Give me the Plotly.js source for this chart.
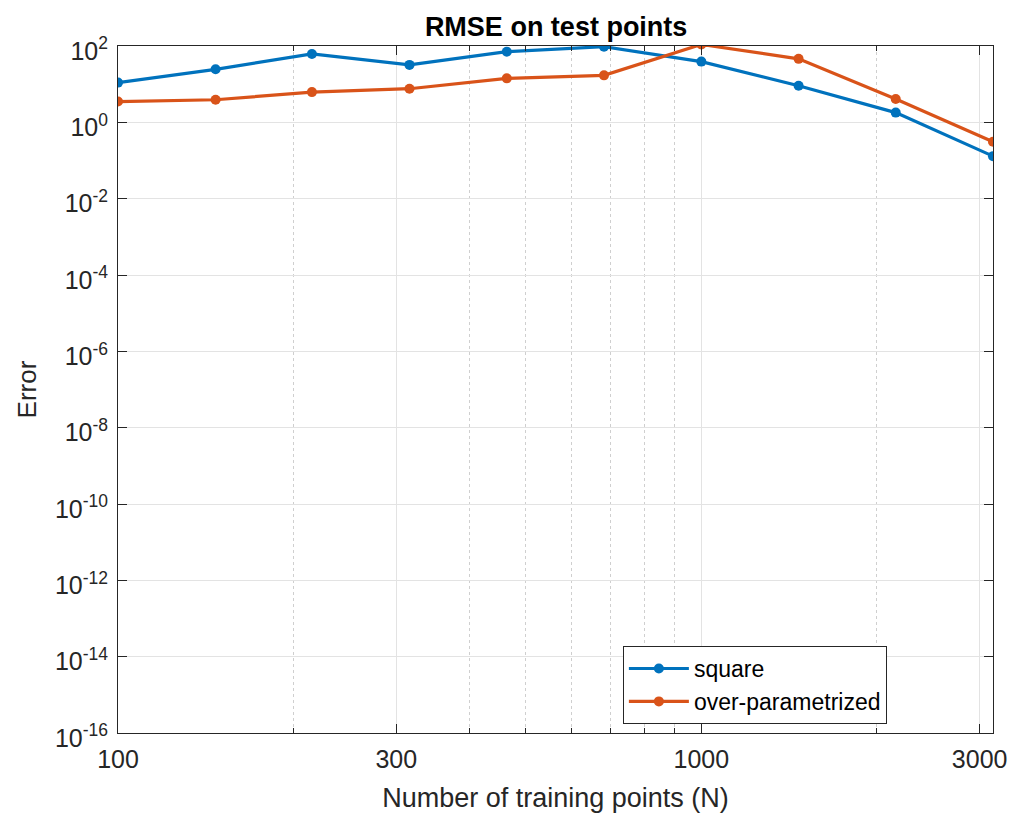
<!DOCTYPE html>
<html>
<head>
<meta charset="utf-8">
<script src="https://cdn.plot.ly/plotly-3.0.1.min.js"></script>
<style>html,body{margin:0;padding:0;background:#fff;}#chart{width:1013px;height:819px;}</style>
</head>
<body>
<div id="chart"></div>
<script>
const trainingPoints = [100, 147, 215, 316, 464, 681, 1000, 1468, 2154, 3162];
const squareErr = [11, 24.5, 62, 32, 71, 96, 39, 9.1, 1.8, 0.13];
const overParamErr = [3.5, 3.9, 6.2, 7.6, 14.2, 17, 110, 46, 4.1, 0.31];
const seriesNames = ["square", "over-parametrized"];
const xTickVals = [100, 300, 1000, 3000];
const xTickText = ["100", "300", "1000", "3000"];
const xMinorVals = [200, 400, 500, 600, 700, 800, 900, 2000];
const yExps = [2, 0, -2, -4, -6, -8, -10, -12, -14, -16];

const yTickVals = yExps.map(e => Math.pow(10, e));
const yTickText = yExps.map(e => "10<sup>" + e + "</sup>");

const font = "Liberation Sans, Arial, sans-serif";
const traces = [
  {x: trainingPoints, y: squareErr, name: seriesNames[0], type: "scatter", mode: "lines+markers",
   line: {color: "#0072BD", width: 3.2}, marker: {color: "#0072BD", size: 10}},
  {x: trainingPoints, y: overParamErr, name: seriesNames[1], type: "scatter", mode: "lines+markers",
   line: {color: "#D95319", width: 3.2}, marker: {color: "#D95319", size: 10}}
];
const axisCommon = {
  showline: true, linecolor: "#262626", linewidth: 1, mirror: "ticks",
  ticks: "inside", ticklen: 9, tickcolor: "#262626",
  gridcolor: "#e3e3e3", gridwidth: 1, zeroline: false,
  tickfont: {family: font, size: 25, color: "#262626"}
};
const layout = {
  width: 1013, height: 819,
  margin: {l: 118, r: 20, t: 46, b: 86},
  paper_bgcolor: "#fff", plot_bgcolor: "#fff",
  title: {text: "<b>RMSE on test points</b>", font: {family: font, size: 27, color: "#000"},
          x: 0.549, xanchor: "center", y: 0.967, yanchor: "middle"},
  xaxis: Object.assign({}, axisCommon, {
    type: "log", range: [2, 3.5], tickmode: "array", tickvals: xTickVals, ticktext: xTickText,
    ticklabelstandoff: 4,
    minor: {tickmode: "array", tickvals: xMinorVals, ticks: "inside", ticklen: 5, tickcolor: "#262626",
            showgrid: true, gridcolor: "#cfcfcf", griddash: "dot", gridwidth: 1},
    title: {text: "Number of training points (N)", font: {family: font, size: 27, color: "#262626"}, standoff: 16}
  }),
  yaxis: Object.assign({}, axisCommon, {
    type: "log", range: [-16, 2], tickmode: "array", tickvals: yTickVals, ticktext: yTickText,
    ticklabelstandoff: 4, ticklabelshift: 5,
    title: {text: "Error", font: {family: font, size: 26, color: "#262626"}, standoff: 10}
  }),
  showlegend: true,
  legend: {x: 0.577, y: 0.1266, xanchor: "left", yanchor: "top", bgcolor: "#fff",
           bordercolor: "#262626", borderwidth: 1,
           font: {family: font, size: 23, color: "#000"}, tracegroupgap: 0, itemwidth: 60}
};
Plotly.newPlot("chart", traces, layout, {displayModeBar: false, staticPlot: true});
</script>
</body>
</html>
